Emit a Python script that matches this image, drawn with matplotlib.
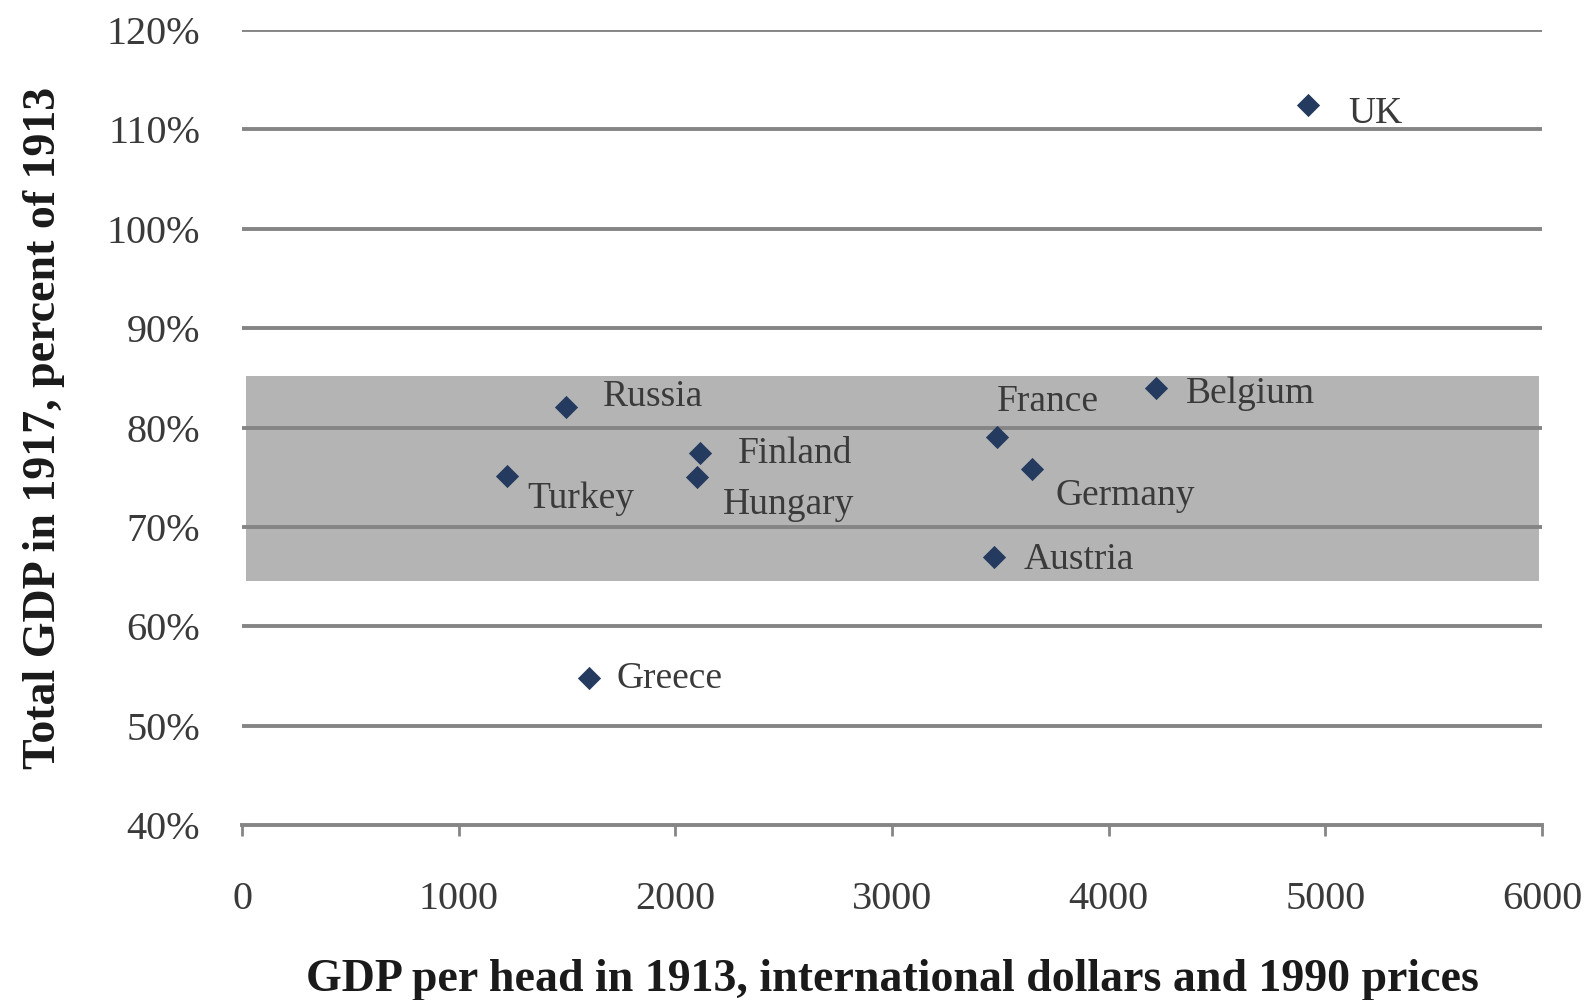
import numpy as np
import matplotlib
matplotlib.use("Agg")
import matplotlib.pyplot as plt
from matplotlib.ticker import FuncFormatter

countries = ["UK", "Belgium", "Russia", "Finland", "Hungary", "Turkey",
             "France", "Germany", "Austria", "Greece"]
gdp_per_head_1913 = [4918, 4218, 1494, 2116, 2102, 1224, 3484, 3648, 3470, 1602]
gdp_1917_pct = [112.5, 84.0, 82.1, 77.4, 75.0, 75.1, 79.0, 75.8, 67.0, 54.8]

# label offsets in pixels (dx, dy) relative to each marker
label_offsets = {
    "UK": (41, -9), "Belgium": (30, -6), "Russia": (37, 10), "Finland": (37, 0),
    "Hungary": (25, -28), "Turkey": (20, -23), "France": (0, 36),
    "Germany": (23, -27), "Austria": (30, -3), "Greece": (27, -1),
}

band_low, band_high = 64.6, 85.2

plt.rcParams['font.family'] = ['Liberation Serif', 'DejaVu Serif']

fig = plt.figure(figsize=(15.87, 10), dpi=100)
ax = fig.add_axes([242 / 1587, 1 - 825 / 1000, 1300 / 1587, 795 / 1000])

ax.fill_between([20, 5985], band_low, band_high, color='#b4b4b4', zorder=0, lw=0)

for y in range(50, 121, 10):
    ax.axhline(y, color='#858585', lw=2.8, zorder=1)

ax.scatter(gdp_per_head_1913, gdp_1917_pct, marker='D', s=140, color='#243a5e',
           zorder=3, linewidths=0)

for name, x, y in zip(countries, gdp_per_head_1913, gdp_1917_pct):
    dx, dy = label_offsets[name]
    ax.annotate(name, (x, y), xytext=(dx, dy), textcoords='offset pixels',
                ha='left', va='center', fontsize=27, color='#3a3a3a', zorder=4)

ax.set_xlim(0, 6000)
ax.set_ylim(40, 120)
ax.set_xticks(np.arange(0, 6001, 1000))
ax.set_yticks(np.arange(40, 121, 10))
ax.yaxis.set_major_formatter(FuncFormatter(lambda v, p: f"{v:.0f}%"))

for s in ['top', 'right', 'left']:
    ax.spines[s].set_visible(False)
ax.spines['bottom'].set_color('#858585')
ax.spines['bottom'].set_linewidth(2.8)

ax.tick_params(axis='x', direction='out', length=8, width=2, color='#858585',
               labelsize=29, labelcolor='#3a3a3a', pad=32)
ax.tick_params(axis='y', length=0, labelsize=29, labelcolor='#3a3a3a', pad=30)

ax.set_xlabel("GDP per head in 1913, international dollars and 1990 prices",
              fontsize=33, fontweight='bold', color='#1a1a1a', labelpad=30)
ax.set_ylabel("Total GDP in 1917, percent of 1913",
              fontsize=33, fontweight='bold', color='#1a1a1a', labelpad=30)

fig.savefig("out.png", dpi=100, facecolor='white')
